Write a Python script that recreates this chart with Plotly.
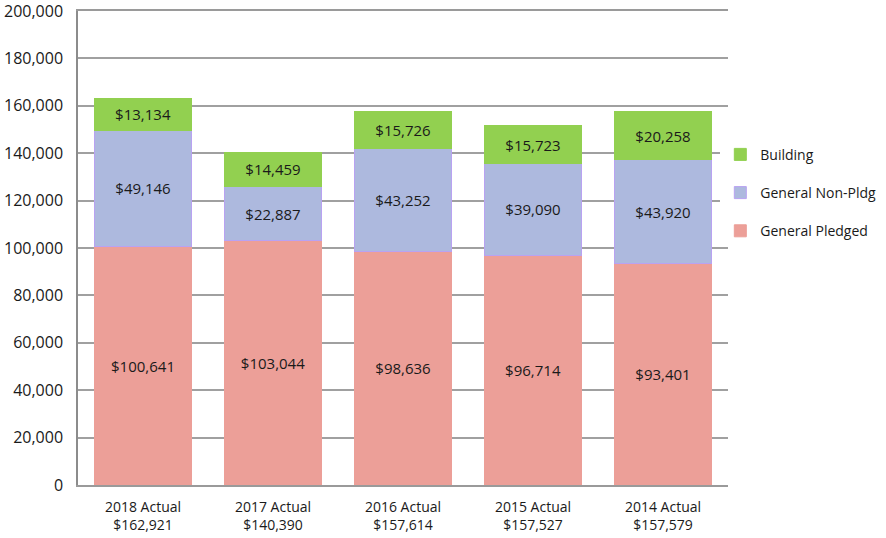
import plotly.graph_objects as go

categories = ["2018 Actual<br>$162,921", "2017 Actual<br>$140,390", "2016 Actual<br>$157,614",
              "2015 Actual<br>$157,527", "2014 Actual<br>$157,579"]
general_pledged = [100641, 103044, 98636, 96714, 93401]
general_nonpldg = [49146, 22887, 43252, 39090, 43920]
building = [13134, 14459, 15726, 15723, 20258]

def money(vals):
    return ["${:,}".format(v) for v in vals]

font = dict(family="Open Sans, Liberation Sans, sans-serif", size=14, color="#1a1a1a")

fig = go.Figure()
fig.add_trace(go.Bar(x=categories, y=general_pledged, name="General Pledged",
                     marker=dict(color="#ec9f98", line=dict(color="#ec9f98", width=1)),
                     text=money(general_pledged), textposition="inside", insidetextanchor="middle",
                     legendgroup="a", legendrank=3))
fig.add_trace(go.Bar(x=categories, y=general_nonpldg, name="General Non-Pldg",
                     marker=dict(color="#adb9de", line=dict(color="#b9a2f2", width=1)),
                     text=money(general_nonpldg), textposition="inside", insidetextanchor="middle",
                     legendgroup="b", legendrank=2))
fig.add_trace(go.Bar(x=categories, y=building, name="Building",
                     marker=dict(color="#92d050", line=dict(color="#92d050", width=1)),
                     text=money(building), textposition="inside", insidetextanchor="middle",
                     legendgroup="c", legendrank=1))

fig.update_traces(textfont=dict(family=font["family"], size=15, color="#1a1a1a"),
                  textangle=0, constraintext="none", cliponaxis=False)

fig.update_layout(
    barmode="stack",
    bargap=0.25,
    width=886, height=538,
    margin=dict(l=78, r=158, t=11, b=53, autoexpand=False),
    paper_bgcolor="white", plot_bgcolor="white",
    font=font,
    legend=dict(xref="container", yref="container", x=0.813, y=0.742,
                xanchor="left", yanchor="top", traceorder="grouped",
                tracegroupgap=17, font=dict(size=14), itemwidth=30),
    xaxis=dict(showline=True, mirror=True, linecolor="#9a9a9a", linewidth=1.5, ticks="",
               tickfont=dict(size=14), ticklabelstandoff=8, automargin=False),
    yaxis=dict(range=[0, 200000], dtick=20000, tickformat=",",
               showgrid=True, gridcolor="#a0a0a0", gridwidth=1.5, showline=True,
               linecolor="#8c8c8c", linewidth=1.5, ticks="", tickfont=dict(size=16),
               zeroline=False, automargin=False, ticklabeloverflow="allow",
               ticklabelstandoff=10),
)

fig.write_html("out.html")
